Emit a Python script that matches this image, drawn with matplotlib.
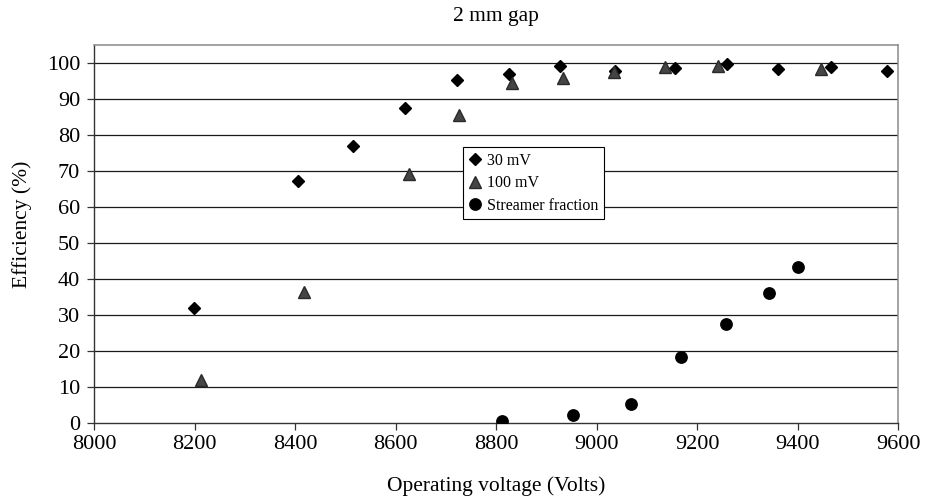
import matplotlib
matplotlib.use("Agg")
import matplotlib.pyplot as plt

plt.rcParams['font.family'] = ['Liberation Serif', 'DejaVu Serif']

# 30 mV threshold efficiency
v30 = [8199, 8405, 8516, 8619, 8722, 8825, 8927, 9037, 9156, 9260, 9362, 9466, 9578]
e30 = [31.8, 67.1, 76.9, 87.5, 95.4, 96.8, 99.2, 97.7, 98.6, 99.8, 98.4, 98.9, 97.7]

# 100 mV threshold efficiency
v100 = [8213, 8418, 8626, 8727, 8831, 8933, 9035, 9136, 9241, 9446]
e100 = [11.9, 36.4, 69.1, 85.5, 94.4, 95.9, 97.5, 98.9, 99.1, 98.4]

# Streamer fraction
vst = [8812, 8954, 9069, 9168, 9258, 9344, 9400]
est = [0.5, 2.1, 5.3, 18.3, 27.5, 36.1, 43.4]

xticks = [8000, 8200, 8400, 8600, 8800, 9000, 9200, 9400, 9600]
yticks = [0, 10, 20, 30, 40, 50, 60, 70, 80, 90, 100]

fig = plt.figure(figsize=(9.25, 4.97), dpi=100)
ax = fig.add_axes([94/925, 1-422.7/497, 804/925, (422.7-45)/497])

for y in yticks[1:]:
    ax.axhline(y, color='#1a1a1a', lw=0.9, zorder=1)

ax.plot(v30, e30, linestyle='none', marker='D', markersize=6.6,
        color='black', markeredgecolor='black', label='30 mV', zorder=3)
ax.plot(v100, e100, linestyle='none', marker='^', markersize=9,
        color='#454545', markeredgecolor='#2a2a2a', label='100 mV', zorder=3)
ax.plot(vst, est, linestyle='none', marker='o', markersize=8.2,
        color='black', markeredgecolor='black', label='Streamer fraction', zorder=3)

ax.set_xlim(8000, 9600)
ax.set_ylim(0, 105)
ax.set_xticks(xticks)
ax.set_yticks(yticks)
ax.tick_params(direction='out', length=5, width=0.9, color='#333333',
               labelsize=16)
ax.tick_params(axis='x', pad=4)
ax.tick_params(axis='y', pad=5)

for s in ['left', 'bottom']:
    ax.spines[s].set_color('#333333')
    ax.spines[s].set_linewidth(1.0)
for s in ['top', 'right']:
    ax.spines[s].set_color('#8a8a8a')
    ax.spines[s].set_linewidth(1.1)

ax.set_title('2 mm gap', fontsize=15.5, pad=17)
ax.set_xlabel('Operating voltage (Volts)', fontsize=15.5, labelpad=16)
ax.set_ylabel('Efficiency (%)', fontsize=15.5)
ax.yaxis.set_label_coords(-0.077, 0.526)

leg = ax.legend(loc='upper left', bbox_to_anchor=(0.4586, 0.729),
                fontsize=11.5, frameon=True, fancybox=False, shadow=False,
                borderpad=0.35, labelspacing=0.4, handlelength=0.8,
                handletextpad=0.4, borderaxespad=0)
leg.get_frame().set_edgecolor('black')
leg.get_frame().set_linewidth(0.8)
leg.get_frame().set_alpha(1)

fig.savefig('out.png', dpi=100)
